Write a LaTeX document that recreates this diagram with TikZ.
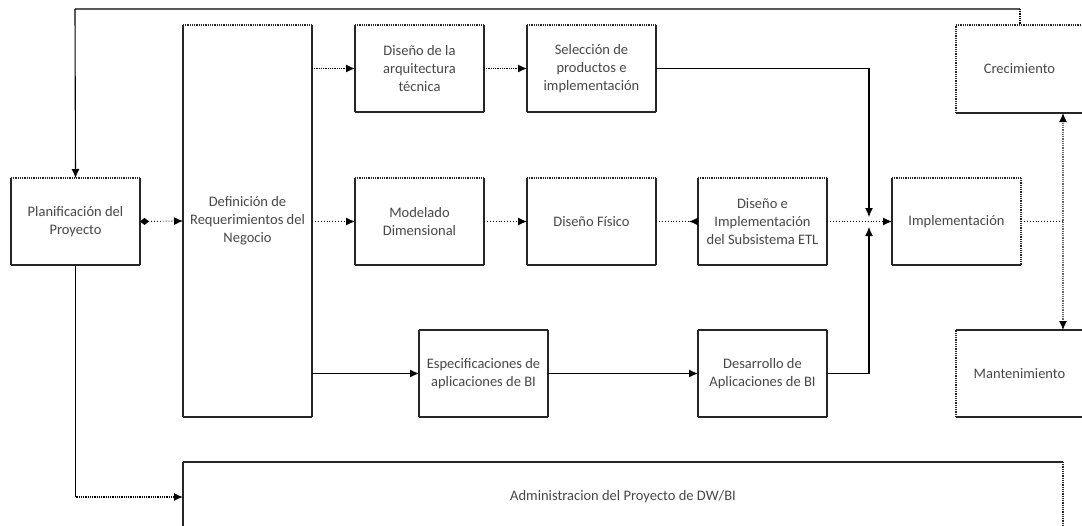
\documentclass[tikz,border=0pt]{standalone}
\usepackage{fontspec}
\setmainfont{Carlito}
\usetikzlibrary{arrows.meta}
\tikzset{
  x=1pt, y=-1pt,
  >={Latex[length=9pt,width=8pt]},
  box/.style={draw=none, inner sep=0pt, outer sep=0pt, align=center,
    text=black!72, font=\fontsize{14.5}{18}\selectfont},
  se/.style={line width=1.4pt, black!85},
  de/.style={line width=1.4pt, black!85, dash pattern=on 1pt off 0.8pt},
  ne/.style={draw=none},
  conn/.style={line width=1.1pt, black},
  dconn/.style={line width=1.3pt, black, dash pattern=on 1pt off 0.8pt},
  lconn/.style={line width=0.9pt, black, dotted},
}
\newcommand{\boxedges}[5]{%
  \draw[#2] (#1.north west) -- (#1.north east);
  \draw[#3] (#1.north east) -- (#1.south east);
  \draw[#4] (#1.south east) -- (#1.south west);
  \draw[#5] (#1.south west) -- (#1.north west);
}
\begin{document}
\begin{tikzpicture}
\useasboundingbox[fill=white] (0,0) rectangle (1082,525);
\begin{scope}
\clip (0,0) rectangle (1082,525);
% nodes
\node[box, minimum width=129, minimum height=87] (plan) at (75.5,221.5) {Planificación del\\Proyecto};
\node[box, minimum width=129, minimum height=392] (def) at (247.5,221) {Definición de\\Requerimientos del\\Negocio};
\node[box, minimum width=129, minimum height=87] (arq) at (419.5,68.5) {Diseño de la\\arquitectura\\técnica};
\node[box, minimum width=129, minimum height=87] (sel) at (591.5,68.5) {Selección de\\productos e\\implementación};
\node[box, minimum width=129, minimum height=87] (mod) at (419.5,221.5) {Modelado\\Dimensional};
\node[box, minimum width=129, minimum height=87] (fis) at (591.5,221.5) {Diseño Físico};
\node[box, minimum width=129, minimum height=87] (etl) at (762.5,221.5) {Diseño e\\Implementación\\del Subsistema ETL};
\node[box, minimum width=129, minimum height=87] (impl) at (956.5,221.5) {Implementación};
\node[box, minimum width=127, minimum height=88] (crec) at (1019.5,69) {Crecimiento};
\node[box, minimum width=127, minimum height=87] (mant) at (1019.5,373.5) {Mantenimiento};
\node[box, minimum width=129, minimum height=87] (espec) at (483.5,373.5) {Especificaciones de\\aplicaciones de BI};
\node[box, minimum width=129, minimum height=87] (des) at (762.5,373.5) {Desarrollo de\\Aplicaciones de BI};
\node[box, minimum width=880, minimum height=70] (admin) at (623,497) {Administracion del Proyecto de DW/BI};
% box borders
\boxedges{plan}{de}{se}{se}{se}
\boxedges{def}{de}{se}{se}{se}
\boxedges{arq}{de}{se}{se}{se}
\boxedges{sel}{de}{se}{se}{se}
\boxedges{mod}{de}{se}{se}{se}
\boxedges{fis}{de}{se}{se}{se}
\boxedges{etl}{de}{se}{se}{se}
\boxedges{impl}{de}{de}{se}{se}
\boxedges{crec}{de}{ne}{se}{de}
\boxedges{mant}{se}{ne}{se}{de}
\boxedges{espec}{se}{se}{se}{se}
\boxedges{des}{se}{se}{se}{se}
\boxedges{admin}{se}{de}{ne}{se}
% coordinates
\coordinate (tl) at (75,9);
\coordinate (tr) at (1020,9);
\coordinate (jt) at (869,217);
\coordinate (jb) at (869,227);
\coordinate (vx) at (1063,0);
\coordinate (bl) at (plan.south |- admin.west);
% top feedback line
\draw[line width=1.5pt, black!65] (tl) -- (tr);
\draw[conn, ->] (tl) -- (plan.north);
\draw[dconn] (tr) -- (tr |- crec.north);
% horizontal connectors middle row
\draw[lconn, {Diamond[length=9pt,width=7pt]}->] (plan.east) -- (def.west);
\draw[lconn, ->] (def.east |- mod.west) -- (mod.west);
\draw[lconn, ->] (mod.east) -- (fis.west);
\draw[lconn, -{Latex[length=9pt,width=8pt,reversed]}] (fis.east) -- (etl.west);
\draw[lconn, ->] (etl.east) -- (impl.west);
\draw[lconn] (impl.east) -- (impl.east -| vx);
% top row
\draw[dconn, ->] (def.east |- arq.west) -- (arq.west);
\draw[dconn, ->] (arq.east) -- (sel.west);
\draw[conn, ->] (sel.east) -| (jt);
% bottom row
\draw[conn, ->] (def.east |- espec.west) -- (espec.west);
\draw[conn, ->] (espec.east) -- (des.west);
\draw[conn, ->] (des.east) -| (jb);
% crecimiento - mantenimiento
\draw[line width=1.3pt, black!60, dash pattern=on 1pt off 0.8pt,
  {Latex[length=9pt,width=8pt,black]}-{Latex[length=9pt,width=8pt,black]}]
  (crec.south -| vx) -- (mant.north -| vx);
% planificacion to administracion
\draw[conn] (plan.south) -- (bl);
\draw[dconn, ->] (bl) -- (admin.west);
\end{scope}
\end{tikzpicture}
\end{document}
